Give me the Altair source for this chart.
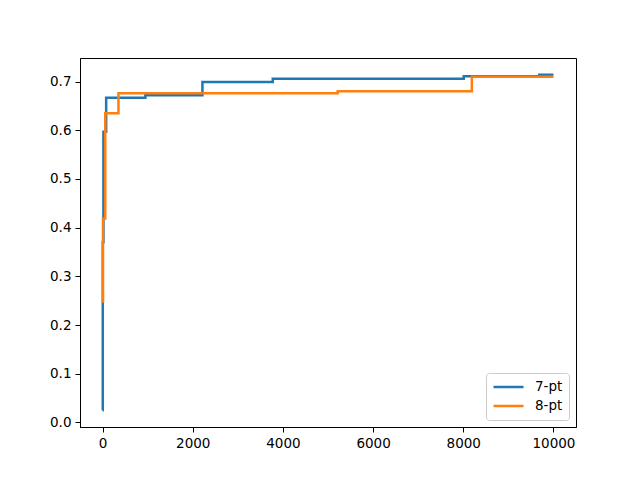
import altair as alt
import pandas as pd

blue_x = [0, 5, 20, 80, 950, 2215, 3775, 8010, 9685, 10000]
blue_y = [0.025, 0.37, 0.597, 0.667, 0.672, 0.699, 0.706, 0.711, 0.714, 0.714]
orange_x = [0, 10, 60, 353, 5215, 8190, 10000]
orange_y = [0.248, 0.419, 0.635, 0.676, 0.680, 0.710, 0.710]
series = ["7-pt", "8-pt"]
colors = ["#1f77b4", "#ff7f0e"]

df = pd.concat([
    pd.DataFrame({"x": blue_x, "y": blue_y, "s": series[0]}),
    pd.DataFrame({"x": orange_x, "y": orange_y, "s": series[1]}),
])

FS = 13.5
chart = alt.Chart(df).mark_line(interpolate="step-after", strokeWidth=2.5).encode(
    x=alt.X("x:Q", scale=alt.Scale(domain=[-500, 10500], nice=False, zero=False),
            axis=alt.Axis(title=None, values=[0, 2000, 4000, 6000, 8000, 10000], format="d")),
    y=alt.Y("y:Q", scale=alt.Scale(domain=[-0.0095, 0.7485], nice=False, zero=False),
            axis=alt.Axis(title=None, values=[0.0, 0.1, 0.2, 0.3, 0.4, 0.5, 0.6, 0.7], format=".1f")),
    color=alt.Color("s:N", scale=alt.Scale(domain=series, range=colors),
                    legend=alt.Legend(title=None, orient="bottom-right", symbolType="stroke",
                                      symbolSize=900, symbolStrokeWidth=2.5, labelFontSize=FS,
                                      labelFont="DejaVu Sans", fillColor="white",
                                      strokeColor="#cccccc", cornerRadius=3, padding=6,
                                      offset=7, rowPadding=3, clipHeight=16,
                                      labelOffset=10, labelColor="black")),
    order=alt.Order("x:Q"),
).properties(
    width=496, height=369,
    autosize=alt.AutoSizeParams(type="none"),
    padding={"left": 72, "top": 50, "right": 56, "bottom": 45},
).configure_view(stroke="black", strokeWidth=1).configure_axis(
    grid=False, domainColor="black", tickColor="black", tickSize=5,
    labelFontSize=FS, labelFont="DejaVu Sans", labelColor="black", labelPadding=4,
)

chart.save("out.html", embed_options={"renderer": "svg", "actions": False})
